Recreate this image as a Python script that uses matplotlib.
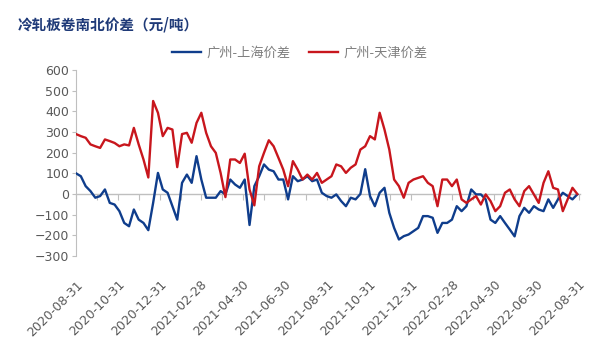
import numpy as np
import pandas as pd
import matplotlib
matplotlib.use("Agg")
import matplotlib.pyplot as plt
import matplotlib.dates as mdates

plt.rcParams['font.family'] = ['Noto Sans CJK SC', 'DejaVu Sans']

# 周度数据, 从 2020-08-31 开始
start_date = '2020-08-31'
gz_sh = [100, 86, 38, 14, -18, -10, 22, -43, -51, -83,
         -140, -156, -75, -124, -140, -175, -43, 102, 22, 6,
         -59, -124, 54, 94, 54, 183, 70, -18, -18, -18,
         14, -2, 70, 46, 30, 70, -150, 38, 86, 143,
         118, 110, 70, 70, -26, 86, 62, 70, 86, 62,
         70, 6, -10, -18, -2, -34, -59, -18, -26, 0,
         120, -10, -59, 6, 30, -91, -164, -220, -204, -196,
         -180, -164, -107, -107, -115, -188, -140, -140, -124, -59,
         -83, -59, 22, -2, -2, -26, -124, -140, -107, -140,
         -172, -205, -107, -67, -91, -59, -75, -83, -26, -67,
         -26, 6, -10, -26, -2]
gz_tj = [290, 280, 272, 240, 231, 223, 264, 256, 247, 231,
         240, 235, 320, 240, 167, 80, 450, 393, 280, 320,
         312, 130, 290, 296, 248, 344, 393, 296, 231, 199,
         102, -15, 167, 167, 150, 195, 22, -55, 134, 199,
         260, 231, 175, 118, 38, 159, 118, 70, 94, 70,
         102, 54, 70, 86, 143, 134, 102, 127, 143, 215,
         231, 280, 264, 393, 312, 215, 70, 38, -18, 54,
         70, 78, 86, 54, 38, -59, 70, 70, 38, 70,
         -26, -43, -26, -10, -51, -2, -34, -83, -59, 6,
         22, -26, -59, 14, 38, -2, -43, 54, 110, 30,
         22, -83, -26, 30, 0]

x_ticks = ['2020-08-31', '2020-10-31', '2020-12-31', '2021-02-28', '2021-04-30',
           '2021-06-30', '2021-08-31', '2021-10-31', '2021-12-31', '2022-02-28',
           '2022-04-30', '2022-06-30', '2022-08-31']

dates = pd.date_range(start_date, periods=len(gz_sh), freq='7D')

blue = '#0f3d8c'
red = '#c8161d'
grey = '#bfbfbf'
txt = '#595959'

fig = plt.figure(figsize=(6, 3.46), dpi=100)
ax = fig.add_axes([0.1267, 0.2601, 0.84, 0.5376])

ax.plot(dates, gz_sh, color=blue, lw=1.7, label='广州-上海价差', zorder=3)
ax.plot(dates, gz_tj, color=red, lw=1.7, label='广州-天津价差', zorder=3)

ax.set_ylim(-300, 600)
ax.set_yticks(np.arange(-300, 601, 100))
ax.set_xlim(pd.Timestamp('2020-08-31'), pd.Timestamp('2022-09-02'))

# x 轴标签放在底部
tick_dates = pd.to_datetime(x_ticks)
ax.set_xticks(tick_dates)
ax.set_xticklabels(x_ticks, rotation=45, ha='right', rotation_mode='anchor',
                   family='DejaVu Sans', fontsize=9, color=txt)
ax.tick_params(axis='x', length=0, pad=16)
ax.tick_params(axis='y', length=3, width=0.8, color=grey, pad=2, labelsize=9, labelcolor=txt)
for lab in ax.get_yticklabels():
    lab.set_family('DejaVu Sans')

for s in ['top', 'right', 'bottom']:
    ax.spines[s].set_visible(False)
ax.spines['left'].set_color(grey)
ax.spines['left'].set_linewidth(0.8)

# 零线 + 月度刻度
sec = ax.secondary_xaxis(1/3)
sec.spines['bottom'].set_color(grey)
sec.spines['bottom'].set_linewidth(1.0)
sec.spines['top'].set_visible(False)
sec.set_xticks(pd.date_range('2020-08-31', '2022-08-31', freq='ME'))
sec.tick_params(axis='x', direction='out', length=4, width=0.8, color=grey, labelbottom=False)

fig.text(0.03, 0.93, '冷轧板卷南北价差（元/吨）', fontsize=10.5, fontweight='bold',
         color='#1f3a78', va='center')

fig.legend(loc='center', bbox_to_anchor=(0.5, 0.847), ncol=2, frameon=False,
           fontsize=9.5, handlelength=2.2, handletextpad=0.4, columnspacing=1.4,
           labelcolor='#7f7f7f')

fig.savefig('out.png', dpi=100)
